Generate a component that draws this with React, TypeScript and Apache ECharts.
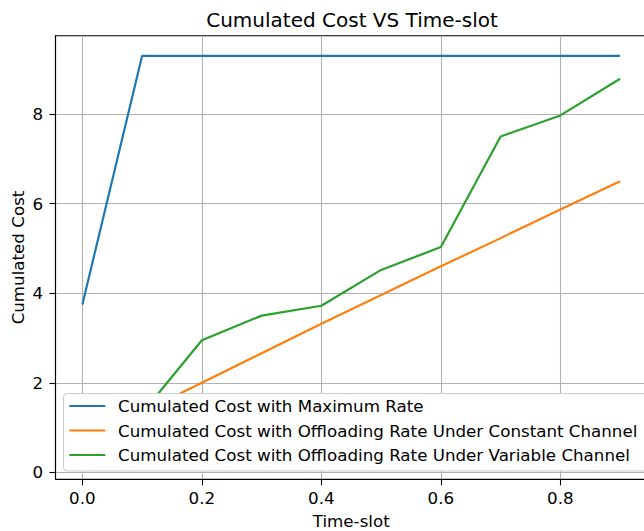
import React, { useEffect, useRef } from "react";
import * as echarts from "echarts";

// Time-slot positions and cumulated cost per strategy
const timeSlots = [0.0, 0.1, 0.2, 0.3, 0.4, 0.5, 0.6, 0.7, 0.8, 0.9];
const maxRateCost = [3.75, 9.3, 9.3, 9.3, 9.3, 9.3, 9.3, 9.3, 9.3, 9.3];
const constantChannelCost = [0.7, 1.34, 2.0, 2.66, 3.32, 3.96, 4.6, 5.23, 5.87, 6.5];
const variableChannelCost = [0.3, 1.32, 2.95, 3.5, 3.72, 4.52, 5.03, 7.5, 7.97, 8.79];

const seriesNames = [
  "Cumulated Cost with Maximum Rate",
  "Cumulated Cost with Offloading Rate Under Constant Channel",
  "Cumulated Cost with Offloading Rate Under Variable Channel",
];
const seriesColors = ["#1f77b4", "#ff7f0e", "#2ca02c"];

const xTicks = [0.0, 0.2, 0.4, 0.6, 0.8];
const yTicks = [0, 2, 4, 6, 8];

const FONT = "DejaVu Sans";
const FS = 16.7;

export default function App() {
  const ref = useRef<HTMLDivElement>(null);

  useEffect(() => {
    document.body.style.margin = "0";
    const chart = echarts.init(ref.current!, undefined, { renderer: "svg" });

    const pairs = (ys: number[]) => timeSlots.map((x, i) => [x, ys[i]]);
    const allValues = [maxRateCost, constantChannelCost, variableChannelCost];

    chart.setOption({
      animation: false,
      backgroundColor: "#ffffff",
      textStyle: { fontFamily: FONT },
      grid: {
        left: 55.5,
        right: -3,
        top: 35.7,
        bottom: 51.7,
        containLabel: false,
        outerBoundsMode: "none",
        show: true,
        borderColor: "#000000",
        borderWidth: 1.1,
        backgroundColor: "transparent",
      },
      graphic: {
        elements: [
          {
            type: "text",
            x: 352,
            y: 19.5,
            style: {
              text: "Cumulated Cost VS Time-slot",
              fontFamily: FONT,
              fontSize: 20,
              fill: "#000000",
              textAlign: "center",
              textVerticalAlign: "middle",
            },
          },
        ],
      },
      legend: {
        orient: "vertical",
        left: 63.5,
        top: 393.5,
        z: 10,
        padding: [3.5, 11, 7, 5.8],
        backgroundColor: "#ffffff",
        borderColor: "#cccccc",
        borderWidth: 1.1,
        borderRadius: 4,
        itemGap: 6.5,
        itemWidth: 36,
        itemHeight: 2.2,
        icon: "rect",
        data: seriesNames,
        textStyle: {
          fontFamily: FONT,
          fontSize: FS,
          color: "#000000",
          lineHeight: 18,
          padding: [0, 0, 0, 7.7],
        },
      },
      xAxis: {
        type: "value",
        min: -0.045,
        max: 0.945,
        name: "Time-slot",
        nameLocation: "middle",
        nameGap: 33,
        nameMoveOverlap: false,
        nameTextStyle: { fontFamily: FONT, fontSize: FS, color: "#000000" },
        axisLine: { show: true, onZero: false, lineStyle: { color: "#000000", width: 1.1 } },
        axisTick: {
          show: true,
          length: 6,
          inside: false,
          customValues: xTicks,
          lineStyle: { color: "#000000", width: 1.1 },
        },
        axisLabel: {
          customValues: xTicks,
          margin: 10,
          fontFamily: FONT,
          fontSize: FS,
          color: "#000000",
          formatter: (v: number) => v.toFixed(1),
        },
        splitLine: { show: true, lineStyle: { color: "#b0b0b0", width: 1.1 } },
      },
      yAxis: {
        type: "value",
        min: -0.155,
        max: 9.75,
        name: "Cumulated Cost",
        nameLocation: "middle",
        nameGap: 29,
        nameMoveOverlap: false,
        nameTextStyle: { fontFamily: FONT, fontSize: FS, color: "#000000" },
        axisLine: { show: true, onZero: false, lineStyle: { color: "#000000", width: 1.1 } },
        axisTick: {
          show: true,
          length: 6,
          inside: false,
          customValues: yTicks,
          lineStyle: { color: "#000000", width: 1.1 },
        },
        axisLabel: {
          customValues: yTicks,
          margin: 12.5,
          fontFamily: FONT,
          fontSize: FS,
          color: "#000000",
          formatter: (v: number) => String(Math.round(v)),
        },
        splitLine: { show: true, lineStyle: { color: "#b0b0b0", width: 1.1 } },
      },
      series: seriesNames.map((name, i) => ({
        name,
        type: "line",
        data: pairs(allValues[i]),
        color: seriesColors[i],
        showSymbol: false,
        symbol: "none",
        lineStyle: { color: seriesColors[i], width: 2.2 },
        itemStyle: { color: seriesColors[i] },
        z: 2,
      })),
    });

    return () => chart.dispose();
  }, []);

  return (
    <div
      ref={ref}
      style={{ position: "absolute", left: 0, top: 0, width: 644, height: 531 }}
    />
  );
}
